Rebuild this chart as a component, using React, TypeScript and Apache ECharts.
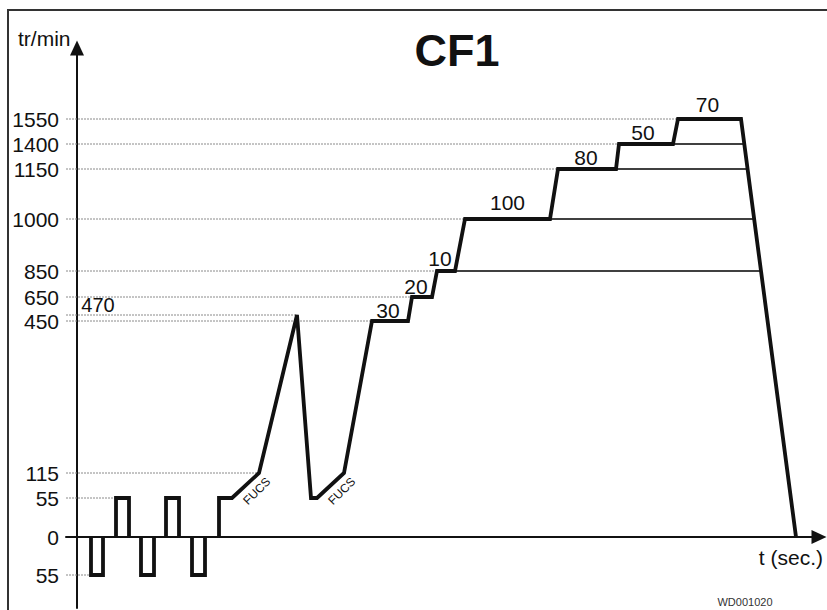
import { useEffect, useRef } from "react";
import * as echarts from "echarts";

// Speed levels (tr/min) met on the schematic axis, and where each one sits on that
// non-proportional axis (axis units).
const rpmLevels = [-55, 0, 55, 115, 450, 470, 650, 850, 1000, 1150, 1400, 1550];
const axisPositions = [-38, 0, 39, 64, 216, 222, 240, 266, 318, 368, 393, 418];

// Tick labels shown on the axis
const tickLevels = [-55, 0, 55, 115, 450, 650, 850, 1000, 1150, 1400, 1550];
const tickLabels = ["55", "0", "55", "115", "450", "650", "850", "1000", "1150", "1400", "1550"];

// Spin profile: [time, tr/min], one array per drawn stroke
const pulse1 = [[14, 0], [14, -55], [26, -55], [26, 0]];
const pulse2 = [[39, 0], [39, 55], [52, 55], [52, 0]];
const pulse3 = [[64, 0], [64, -55], [77, -55], [77, 0]];
const pulse4 = [[89, 0], [89, 55], [102, 55], [102, 0]];
const pulse5 = [[115, 0], [115, -55], [128, -55], [128, 0]];
const mainCycle = [
  [142, 0], [142, 55], [155, 55], [182, 115], [220, 470], [234, 55], [240, 55],
  [267, 115], [295, 450], [331, 450], [335, 650], [355, 650], [360, 850], [378, 850],
  [388, 1000], [473, 1000], [481, 1150], [539, 1150], [542, 1400], [596, 1400],
  [601, 1550], [664, 1550], [719, 0],
];
const profile = [pulse1, pulse2, pulse3, pulse4, pulse5, mainCycle];

// Plateau durations (sec.) written above each step
const stepLevels = [450, 650, 850, 1000, 1150, 1400, 1550];
const stepSeconds = ["30", "20", "10", "100", "80", "50", "70"];

// Levels whose plateau line is carried on to the final braking ramp
const holdLevels = [850, 1000, 1150, 1400];

// Reference (dotted) lines
const refLevels = [-55, 55, 115, 450, 470, 650, 850, 1000, 1150, 1400, 1550];
const peakLabel = "470";
const fucsText = "FUCS";

const X_MIN = -11;
const X_MAX = 742;
const Y_MIN = -71;
const Y_MAX = 489;

const FONT = "Liberation Sans";
const INK = "#111111";

function toAxis(rpm: number): number {
  const i = rpmLevels.indexOf(rpm);
  return axisPositions[i];
}

function firstTimeAt(rpm: number): number {
  for (const seg of profile) for (const p of seg) if (p[1] === rpm) return p[0];
  return X_MIN;
}
function lastTimeAt(rpm: number): number {
  let t = X_MIN;
  for (const p of mainCycle) if (p[1] === rpm) t = p[0];
  return t;
}
function rampTimeAt(rpm: number): number {
  const a = mainCycle[mainCycle.length - 2];
  const b = mainCycle[mainCycle.length - 1];
  const ya = toAxis(a[1]);
  const yb = toAxis(b[1]);
  const y = toAxis(rpm);
  return a[0] + ((ya - y) / (ya - yb)) * (b[0] - a[0]);
}

function textLabel(text: string, size: number, offset: number[], rotate = 0) {
  return {
    show: true,
    position: "inside",
    formatter: text,
    offset,
    rotate,
    color: INK,
    opacity: 1,
    fontSize: size,
    fontFamily: FONT,
    textBorderWidth: 0,
    textShadowBlur: 0,
  };
}

const labelSeriesBase = {
  type: "scatter",
  silent: true,
  symbolSize: 0,
  z: 6,
  itemStyle: { opacity: 1 },
};

export default function App() {
  const ref = useRef<HTMLDivElement>(null);

  useEffect(() => {
    if (!ref.current) return;
    const chart = echarts.init(ref.current, undefined, { renderer: "svg" });

    const series: any[] = [];

    // dotted reference lines
    refLevels.forEach((lv) => {
      series.push({
        type: "line",
        silent: true,
        symbol: "none",
        z: 1,
        data: [
          [X_MIN, toAxis(lv)],
          [firstTimeAt(lv), toAxis(lv)],
        ],
        lineStyle: { color: "#8a8a8a", width: 1, type: [2, 1] },
      });
    });

    // thin continuation lines to the braking ramp
    holdLevels.forEach((lv) => {
      series.push({
        type: "line",
        silent: true,
        symbol: "none",
        z: 2,
        data: [
          [lastTimeAt(lv), toAxis(lv)],
          [rampTimeAt(lv), toAxis(lv)],
        ],
        lineStyle: { color: "#000", width: 1.5 },
      });
    });

    // thick profile
    profile.forEach((seg) => {
      series.push({
        type: "line",
        silent: true,
        symbol: "none",
        z: 5,
        data: seg.map((p) => [p[0], toAxis(p[1])]),
        lineStyle: { color: INK, width: 3.8, join: "miter", cap: "butt" },
      });
    });

    // plateau duration labels
    const stepDx = [-2, -6, -6, 0, -1, -3, -2];
    const stepAbove = [11, 11, 13, 17, 12, 12, 15];
    series.push({
      ...labelSeriesBase,
      data: stepLevels.map((lv, i) => {
        const t0 = firstTimeAt(lv);
        const t1 = lastTimeAt(lv);
        return {
          value: [(t0 + t1) / 2, toAxis(lv)],
          label: textLabel(stepSeconds[i], 21, [stepDx[i], -stepAbove[i]]),
        };
      }),
    });

    // 470 label near the axis
    series.push({
      ...labelSeriesBase,
      data: [{ value: [0, toAxis(470)], label: textLabel(peakLabel, 20, [21, -10]) }],
    });

    // FUCS labels along the 55 -> 115 ramps
    const fucsPoints: number[][] = [];
    for (let i = 1; i < mainCycle.length; i++) {
      const a = mainCycle[i - 1];
      const b = mainCycle[i];
      if (a[1] === 55 && b[1] === 115) {
        fucsPoints.push([(a[0] + b[0]) / 2, (toAxis(a[1]) + toAxis(b[1])) / 2]);
      }
    }
    series.push({
      ...labelSeriesBase,
      data: fucsPoints.map((p) => ({ value: p, label: textLabel(fucsText, 12, [4, 12], 45) })),
    });

    const axisLine = (show: boolean) => ({
      show,
      onZero: true,
      symbol: ["none", "triangle"],
      symbolSize: [14, 15],
      lineStyle: { color: INK, width: 2 },
    });

    chart.setOption({
      animation: false,
      grid: { left: 66, right: 8, top: 48, bottom: 2 },
      xAxis: {
        type: "value",
        min: X_MIN,
        max: X_MAX,
        axisLine: axisLine(true),
        axisTick: { show: false },
        axisLabel: { show: false },
        splitLine: { show: false },
      },
      yAxis: {
        type: "value",
        min: Y_MIN,
        max: Y_MAX,
        axisLine: axisLine(true),
        axisTick: { show: false },
        splitLine: { show: false },
        axisLabel: {
          customValues: tickLevels.map(toAxis),
          formatter: (v: number) => {
            const i = tickLevels.findIndex((lv) => Math.abs(toAxis(lv) - v) < 0.01);
            return i >= 0 ? tickLabels[i] : "";
          },
          margin: 7,
          fontSize: 21,
          color: INK,
          fontFamily: FONT,
        },
      },
      series,
      graphic: [
        {
          type: "rect",
          silent: true,
          shape: { x: 8, y: 10, width: 900, height: 700 },
          style: { fill: "none", stroke: "#333", lineWidth: 2 },
        },
        {
          type: "text",
          silent: true,
          x: 457,
          y: 50,
          style: {
            text: "CF1",
            fill: INK,
            font: `bold 45px ${FONT}`,
            align: "center",
            verticalAlign: "middle",
          },
        },
        {
          type: "text",
          silent: true,
          x: 18,
          y: 38,
          style: {
            text: "tr/min",
            fill: INK,
            font: `21px ${FONT}`,
            align: "left",
            verticalAlign: "middle",
          },
        },
        {
          type: "text",
          silent: true,
          x: 823,
          y: 557,
          style: {
            text: "t (sec.)",
            fill: INK,
            font: `21px ${FONT}`,
            align: "right",
            verticalAlign: "middle",
          },
        },
        {
          type: "text",
          silent: true,
          x: 745,
          y: 602,
          style: {
            text: "WD001020",
            fill: "#333",
            font: `11px ${FONT}`,
            align: "center",
            verticalAlign: "middle",
          },
        },
      ],
    });

    return () => chart.dispose();
  }, []);

  return (
    <div
      ref={ref}
      style={{ position: "fixed", left: 0, top: 0, width: 827, height: 610, background: "#fff" }}
    />
  );
}
